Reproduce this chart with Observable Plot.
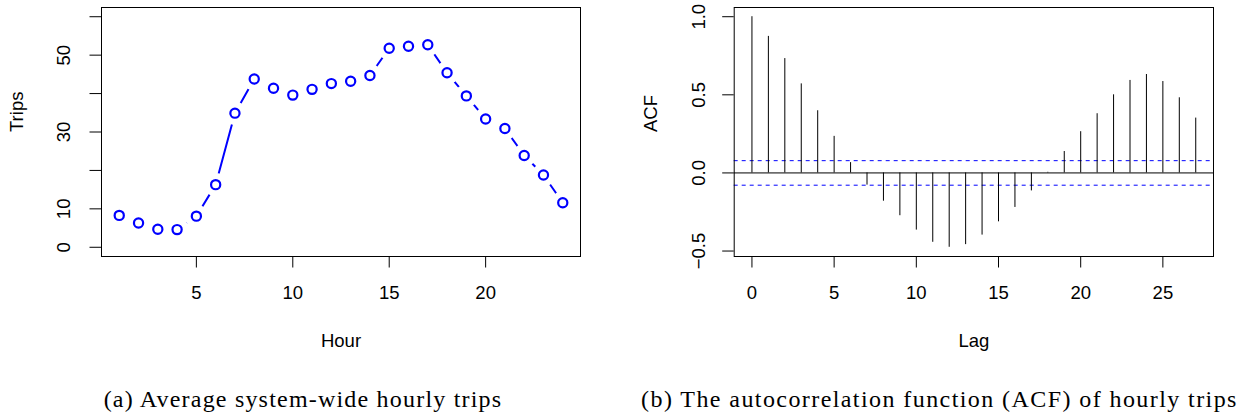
<!DOCTYPE html>
<html>
<head>
<meta charset="utf-8">
<script src="https://cdn.jsdelivr.net/npm/d3@7"></script>
<script src="https://cdn.jsdelivr.net/npm/@observablehq/plot@0.6"></script>
<style>
  html, body { margin: 0; padding: 0; background: white; }
  #wrap { display: flex; width: 1253px; height: 419px; overflow: hidden; }
  .panel { display: flex; flex-direction: column; }
  .cap { font-family: "Liberation Serif", "DejaVu Serif", serif; font-size: 24px; color: #000; white-space: nowrap; line-height: 47px; height: 47px; text-align: center; position: relative; top: 4px; }
</style>
</head>
<body>
<div id="wrap">
  <div class="panel" id="pa" style="width:626px"></div>
  <div class="panel" id="pb" style="width:627px"></div>
</div>
<script>
// ---- data ----
const hours = [1, 2, 3, 4, 5, 6, 7, 8, 9, 10, 11, 12, 13, 14, 15, 16, 17, 18, 19, 20, 21, 22, 23, 24];
const trips = [8.3, 6.3, 4.7, 4.6, 8.1, 16.3, 34.9, 43.8, 41.4, 39.6, 41.1, 42.6, 43.2, 44.7, 51.8, 52.3, 52.7, 45.4, 39.4, 33.4, 30.9, 23.9, 18.8, 11.6];
const hourTicks = [5, 10, 15, 20];
const tripTicks = [0, 10, 20, 30, 40, 50, 60];
const tripTickLabels = [0, 10, 30, 50];

const lags = [0, 1, 2, 3, 4, 5, 6, 7, 8, 9, 10, 11, 12, 13, 14, 15, 16, 17, 18, 19, 20, 21, 22, 23, 24, 25, 26, 27];
const acf = [1.0, 0.874, 0.732, 0.570, 0.398, 0.234, 0.066, -0.078, -0.181, -0.274, -0.366, -0.444, -0.476, -0.459, -0.398, -0.313, -0.221, -0.115, 0.004, 0.137, 0.264, 0.379, 0.500, 0.592, 0.630, 0.585, 0.481, 0.351];
const ciBound = 0.0785;
const lagTicks = [0, 5, 10, 15, 20, 25];
const acfTicks = [-0.5, 0.0, 0.5, 1.0];
const acfTickLabels = ["\u22120.5", "0.0", "0.5", "1.0"];

const captionA = "(a) Average system-wide hourly trips";
const captionB = "(b) The autocorrelation function (ACF) of hourly trips";

// ---- drawing ----
const FONT = "'Liberation Sans', Arial, Helvetica, sans-serif";
const FS = 18.5;
const common = {
  height: 372, marginTop: 7, marginBottom: 116,
  style: {fontFamily: FONT, fontSize: FS + "px", background: "white", color: "black", overflow: "visible"}
};

const tripData = hours.map((h, i) => ({hour: h, trips: trips[i]}));
const chartA = Plot.plot({
  ...common,
  width: 626, marginLeft: 101, marginRight: 46,
  x: {domain: [0.08, 24.92]},
  y: {domain: [-2.4, 62.4]},
  marks: [
    Plot.line(tripData, {x: "hour", y: "trips", stroke: "blue", strokeWidth: 2}),
    Plot.dot(tripData, {x: "hour", y: "trips", r: 11.75, fill: "white", stroke: "none"}),
    Plot.dot(tripData, {x: "hour", y: "trips", r: 4.6, stroke: "blue", strokeWidth: 2.2, fill: "white"}),
    Plot.axisX(hourTicks, {tickSize: 11.5, tickFormat: () => "", label: null, stroke: "black"}),
    Plot.axisY(tripTicks, {tickSize: 11.5, tickFormat: () => "", label: null, stroke: "black"}),
    Plot.text(hourTicks, {x: d => d, text: d => String(d), frameAnchor: "bottom", dy: 37, fontSize: FS, lineAnchor: "middle", fill: "black"}),
    Plot.text(tripTickLabels, {y: d => d, text: d => String(d), frameAnchor: "left", dx: -37.5, rotate: -90, fontSize: FS, lineAnchor: "middle", textAnchor: "middle", fill: "black"}),
    Plot.text(["Hour"], {frameAnchor: "bottom", dy: 85, fontSize: FS, lineAnchor: "middle", fill: "black"}),
    Plot.text(["Trips"], {frameAnchor: "left", dx: -84, rotate: -90, fontSize: FS, lineAnchor: "middle", fill: "black"}),
    Plot.frame({stroke: "black", strokeWidth: 1})
  ]
});

const acfData = lags.map((l, i) => ({lag: l, acf: acf[i]}));
const chartB = Plot.plot({
  ...common,
  width: 627, marginLeft: 107.7, marginRight: 40,
  x: {domain: [-1.08, 28.08]},
  y: {domain: [-0.535, 1.059]},
  marks: [
    Plot.ruleY([ciBound, -ciBound], {stroke: "blue", strokeWidth: 1, strokeDasharray: "4,4"}),
    Plot.ruleY([0], {stroke: "black", strokeWidth: 1}),
    Plot.ruleX(acfData, {x: "lag", y1: 0, y2: "acf", stroke: "black", strokeWidth: 1}),
    Plot.axisX(lagTicks, {tickSize: 11.5, tickFormat: () => "", label: null, stroke: "black"}),
    Plot.axisY(acfTicks, {tickSize: 11.5, tickFormat: () => "", label: null, stroke: "black"}),
    Plot.text(lagTicks, {x: d => d, text: d => String(d), frameAnchor: "bottom", dy: 37, fontSize: FS, lineAnchor: "middle", fill: "black"}),
    Plot.text(acfTicks, {y: d => d, text: (d, i) => acfTickLabels[i], frameAnchor: "left", dx: -35.5, rotate: -90, fontSize: FS, lineAnchor: "middle", textAnchor: "middle", fill: "black"}),
    Plot.text(["Lag"], {frameAnchor: "bottom", dy: 85, fontSize: FS, lineAnchor: "middle", fill: "black"}),
    Plot.text(["ACF"], {frameAnchor: "left", dx: -83, rotate: -90, fontSize: FS, lineAnchor: "middle", fill: "black"}),
    Plot.frame({stroke: "black", strokeWidth: 1})
  ]
});

const pa = document.getElementById("pa");
const pb = document.getElementById("pb");
pa.appendChild(chartA);
pb.appendChild(chartB);

// captions: stretch letter spacing so the serif text spans the same width as the reference
const ctx = document.createElement("canvas").getContext("2d");
ctx.font = "24px 'Liberation Serif'";
function makeCaption(parent, text, targetWidth, shiftPx) {
  const div = document.createElement("div");
  div.className = "cap";
  const w = ctx.measureText(text).width;
  const ls = Math.max(0, (targetWidth - w) / text.length);
  div.style.letterSpacing = ls.toFixed(2) + "px";
  if (shiftPx < 0) div.style.paddingRight = (-2 * shiftPx) + "px";
  else div.style.paddingLeft = (2 * shiftPx) + "px";
  div.textContent = text;
  parent.appendChild(div);
}
makeCaption(pa, captionA, 400, -10);
makeCaption(pb, captionB, 597, 0);
</script>
</body>
</html>
